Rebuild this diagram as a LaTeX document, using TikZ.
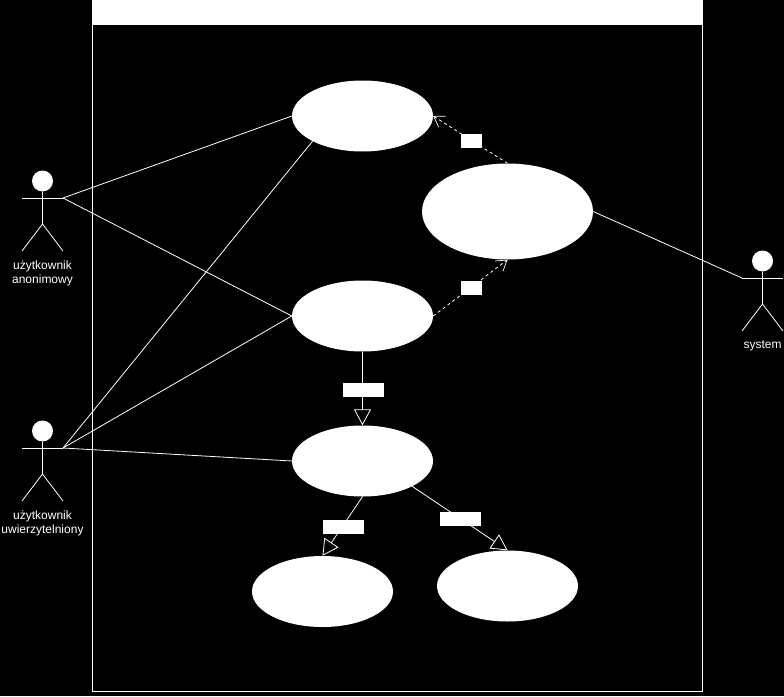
\documentclass[tikz,border=0pt]{standalone}
\usepackage{fontspec}
\setmainfont{Liberation Sans}
\usetikzlibrary{arrows.meta,shapes.geometric}
\newcommand{\actorfig}[4]{% name, x, y of the shoulders, label
  \node[head] (#1head) at (#2,#3-17) {};
  \coordinate (#1left) at (#2-20.5,#3);
  \coordinate (#1right) at (#2+20.5,#3);
  \coordinate (#1hip) at (#2,#3+26);
  \coordinate (#1footl) at (#2-20.5,#3+53);
  \coordinate (#1footr) at (#2+20.5,#3+53);
  \draw[conn] (#1left) -- (#1right);
  \draw[conn] (#1head) -- (#1hip);
  \draw[conn] (#1footl) -- (#1hip) -- (#1footr);
  \node[actorlabel,anchor=north] (#1label) at (#2,#3+62.5) {#4};
}
\tikzset{
  usecase/.style={ellipse,fill=white,inner sep=0pt,minimum width=141pt,minimum height=71pt},
  head/.style={circle,fill=white,inner sep=0pt,minimum size=21pt},
  tag/.style={fill=white,inner sep=0pt,minimum height=14pt},
  conn/.style={draw=white,line width=0.8pt},
  dep/.style={conn,dash pattern=on 3pt off 3pt,-{Straight Barb[length=10pt,width=13pt,line width=0.7pt]}},
  gen/.style={conn,-{Triangle[open,length=16pt,width=17pt,fill=black,line width=0.8pt]}},
  actorlabel/.style={text=white,align=center,inner sep=0pt,font=\fontsize{12}{14}\selectfont},
}
\begin{document}
\begin{tikzpicture}[x=1pt,y=-1pt]
  \fill[black] (0,0) rectangle (784,696);
  \useasboundingbox (0,0) rectangle (784,696);
  \draw[white,line width=1pt] (92.5,0.5) rectangle (702.5,691.5);
  \fill[white] (92.5,0.5) rectangle (702.5,25);
  % use cases
  \node[usecase] (top) at (362.5,116) {};
  \node[usecase,minimum width=171pt,minimum height=96pt] (mid) at (507.5,211.5) {};
  \node[usecase] (left) at (362.5,316) {};
  \node[usecase] (auth) at (362.5,461) {};
  \node[usecase] (subl) at (322.5,591.5) {};
  \node[usecase] (subr) at (507.5,586) {};
  % actors
  \actorfig{anon}{42.5}{198}{użytkownik\\anonimowy}
  \actorfig{user}{42.5}{448}{użytkownik\\uwierzytelniony}
  \actorfig{sys}{762.5}{278}{system}
  % associations
  \draw[conn] (anonright) -- (top.west);
  \draw[conn] (anonright) -- (left.west);
  \draw[conn] (userright) -- (top.south west);
  \draw[conn] (userright) -- (left.west);
  \draw[conn] (userright) -- (auth.west);
  \draw[conn] (mid.east) -- (sysleft);
  % dependencies
  \draw[dep] (mid.north) -- (top.east);
  \draw[dep] (left.east) -- (mid.south);
  \draw[gen] (left.south) -- (auth.north);
  \draw[gen] (auth.south) -- (subl.north);
  \draw[gen] (auth.-27) -- (subr.north);
  % stereotype boxes
  \node[tag,minimum width=21pt] (tagtop) at (471,141) {};
  \node[tag,minimum width=21pt] (tagleft) at (471,288) {};
  \node[tag,minimum width=41pt] (taggen) at (363,390) {};
  \node[tag,minimum width=41pt] (tagsubl) at (343,527) {};
  \node[tag,minimum width=41pt] (tagsubr) at (460,519) {};
\end{tikzpicture}
\end{document}
